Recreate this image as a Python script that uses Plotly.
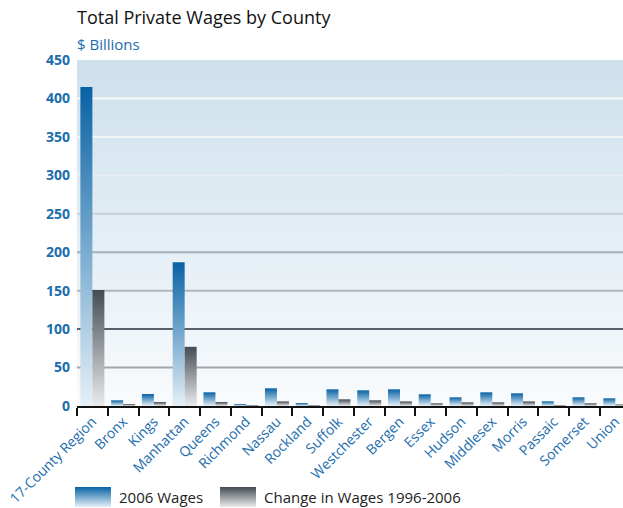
import plotly.graph_objects as go

# County categories and wage values ($ billions)
counties = ["17-County Region", "Bronx", "Kings", "Manhattan", "Queens", "Richmond",
            "Nassau", "Rockland", "Suffolk", "Westchester", "Bergen", "Essex",
            "Hudson", "Middlesex", "Morris", "Passaic", "Somerset", "Union"]
wages_2006 = [415, 7.4, 15.6, 187, 17.8, 2.6, 23, 3.9, 21.7, 20.4, 21.7, 15.2,
              11.3, 17.8, 16.5, 6.1, 11.3, 10]
change_96_06 = [151, 2.6, 5.2, 77, 5.2, 1.3, 6, 1.0, 8.7, 7.4, 6, 3.5,
                4.8, 4.8, 6, 1.0, 3.5, 2]
y_ticks = [0, 50, 100, 150, 200, 250, 300, 350, 400, 450]
grid_colors = {50: "#a2a7ac", 100: "#58616a", 150: "#b2b6ba", 200: "#a9b0b7",
               250: "#c6d0d8", 300: "#e6edf3", 350: "#f2f6f9", 400: "#f6f9fb"}

W, H = 623, 508
PLOT_L, PLOT_T, PLOT_B = 77, 60, 406
X_LO, X_HI = -0.5, 17.25
BAR_W = 0.39

BLUE_SCALE = [[0, "#e6f0f7"], [1, "#0862a5"]]
GREY_SCALE = [[0, "#ebebed"], [1, "#434c54"]]
TICK_BLUE = "#1c6dae"
FONT = "Open Sans"

fig = go.Figure()

# plot-area background with vertical gradient
fig.add_trace(go.Scatter(
    x=[X_LO, X_HI, X_HI, X_LO, X_LO], y=[0, 0, 450, 450, 0],
    mode="lines", line=dict(width=0), fill="toself",
    fillgradient=dict(type="vertical", colorscale=[[0, "#f9fbfd"], [1, "#cde0ec"]]),
    hoverinfo="skip", showlegend=False))

# horizontal grid lines
for v in y_ticks[1:-1]:
    fig.add_trace(go.Scatter(
        x=[X_LO, X_HI], y=[v, v], mode="lines",
        line=dict(color=grid_colors[v], width=2),
        hoverinfo="skip", showlegend=False))


def bar(x0, x1, value, scale, name):
    fig.add_trace(go.Scatter(
        x=[x0, x1, x1, x0, x0], y=[0, 0, value, value, 0],
        mode="lines", line=dict(width=0), fill="toself",
        fillgradient=dict(type="vertical", colorscale=scale),
        name=name, hoverinfo="name+y", showlegend=False))


for i, c in enumerate(counties):
    bar(i - BAR_W, i, wages_2006[i], BLUE_SCALE, c + " 2006")
    bar(i, i + BAR_W, change_96_06[i], GREY_SCALE, c + " change")

# legend swatches on a pixel-based overlay axis
legend_items = [("2006 Wages", BLUE_SCALE, 75), ("Change in Wages 1996-2006", GREY_SCALE, 220)]
for label, scale, lx in legend_items:
    fig.add_trace(go.Scatter(
        x=[lx, lx + 36, lx + 36, lx, lx], y=[1, 1, 21, 21, 1],
        xaxis="x2", yaxis="y2", mode="lines", line=dict(width=0), fill="toself",
        fillgradient=dict(type="vertical", colorscale=scale),
        hoverinfo="skip", showlegend=False))
    fig.add_annotation(x=lx + 42, y=11, xref="x2", yref="y2", text=label,
                       showarrow=False, xanchor="left", yanchor="middle",
                       font=dict(family=FONT, size=15, color="#222222"))

fig.add_annotation(x=(PLOT_L - 2) / W, y=1 - 17 / H, xref="paper", yref="paper",
                   text="Total Private Wages by County", showarrow=False,
                   xanchor="left", yanchor="middle",
                   font=dict(family=FONT, size=18, color="#111111"))
fig.add_annotation(x=(PLOT_L - 2) / W, y=1 - 44 / H, xref="paper", yref="paper",
                   text="$ Billions", showarrow=False,
                   xanchor="left", yanchor="middle",
                   font=dict(family=FONT, size=15, color=TICK_BLUE))

fig.update_layout(
    width=W, height=H,
    margin=dict(l=0, r=0, t=0, b=0, autoexpand=False),
    paper_bgcolor="white", plot_bgcolor="rgba(0,0,0,0)",
    showlegend=False,
    xaxis=dict(
        domain=[PLOT_L / W, 1], range=[X_LO, X_HI], automargin=False,
        tickmode="array", tickvals=list(range(len(counties))), ticktext=counties,
        ticks="outside", ticklen=0, tickangle=-45, ticklabeloverflow="allow",
        tickfont=dict(family=FONT, size=14, color=TICK_BLUE),
        showline=True, linecolor="#111111", linewidth=2,
        showgrid=False, zeroline=False, fixedrange=True,
        minor=dict(tickmode="array", tickvals=[i - 0.5 for i in range(len(counties))],
                   ticks="outside", ticklen=8, tickcolor="#111111", tickwidth=1.5,
                   showgrid=False),
    ),
    yaxis=dict(
        domain=[1 - PLOT_B / H, 1 - PLOT_T / H], range=[0, 450], automargin=False,
        tickmode="array", tickvals=y_ticks,
        tickfont=dict(family=FONT, size=14, color=TICK_BLUE, weight="bold"),
        showgrid=False, zeroline=False, showline=False, ticks="",
        ticklabelstandoff=6, fixedrange=True,
    ),
    xaxis2=dict(domain=[0, 1], range=[0, W], visible=False, anchor="y2", fixedrange=True),
    yaxis2=dict(domain=[0, 30 / H], range=[0, 30], visible=False, anchor="x2", fixedrange=True),
)

fig.write_html("out.html")
